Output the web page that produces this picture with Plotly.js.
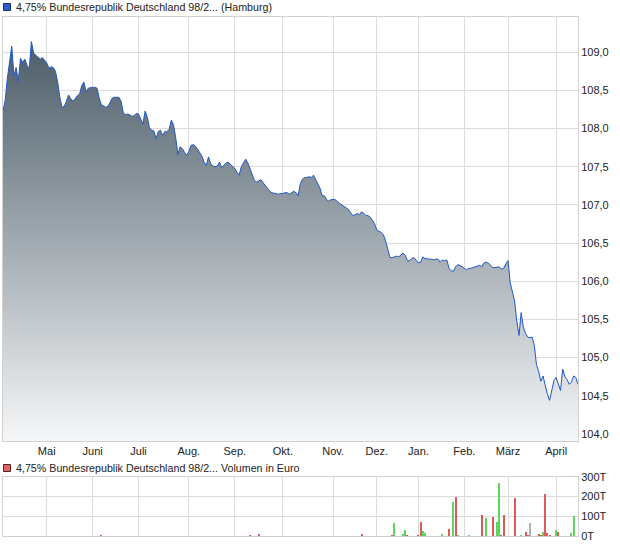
<!DOCTYPE html>
<html>
<head>
<meta charset="utf-8">
<script src="https://cdn.plot.ly/plotly-3.0.1.min.js"></script>
<style>html,body{margin:0;padding:0;background:#fff;}#chart{width:620px;height:546px;}</style>
</head>
<body>
<div id="chart"></div>
<script>
// ---- data ----
const startDate = '2024-04-03';
const holidays = ['2024-05-01','2024-12-24','2024-12-25','2024-12-26','2024-12-31','2025-01-01','2025-04-18'];

const prices = [
108.23,108.37,108.66,108.91,109.08,108.69,108.80,108.62,108.92,108.87,
108.91,108.83,108.78,109.14,108.99,108.96,108.93,108.91,108.93,108.90,
108.86,108.79,108.81,108.80,108.75,108.61,108.41,108.28,108.29,108.36,
108.44,108.39,108.36,108.39,108.43,108.45,108.56,108.61,108.48,108.53,
108.54,108.54,108.54,108.53,108.40,108.31,108.30,108.28,108.29,108.35,
108.40,108.41,108.41,108.41,108.36,108.21,108.18,108.19,108.18,108.16,
108.17,108.20,108.19,108.13,108.06,108.23,108.15,108.01,107.98,107.97,
107.87,107.96,107.98,107.91,107.96,107.96,107.99,108.11,108.05,107.88,
107.66,107.76,107.74,107.69,107.65,107.70,107.78,107.79,107.77,107.73,
107.68,107.64,107.56,107.52,107.63,107.54,107.51,107.50,107.51,107.56,
107.49,107.52,107.55,107.56,107.53,107.51,107.48,107.43,107.39,107.50,
107.56,107.60,107.55,107.48,107.39,107.32,107.30,107.31,107.33,107.29,
107.25,107.22,107.18,107.16,107.15,107.15,107.14,107.15,107.15,107.16,
107.16,107.14,107.16,107.18,107.16,107.12,107.28,107.34,107.36,107.36,
107.37,107.36,107.39,107.34,107.29,107.22,107.12,107.12,107.07,107.05,
107.07,107.07,107.07,107.04,107.02,106.99,106.97,106.95,106.94,106.90,
106.86,106.87,106.89,106.87,106.91,106.89,106.86,106.86,106.84,106.80,
106.75,106.67,106.66,106.64,106.61,106.53,106.42,106.31,106.31,106.32,
106.33,106.32,106.35,106.37,106.34,106.27,106.27,106.30,106.31,106.27,
106.24,106.25,106.32,106.30,106.29,106.29,106.29,106.28,106.29,106.29,
106.25,106.28,106.27,106.28,106.17,106.14,106.13,106.19,106.22,106.21,
106.19,106.17,106.15,106.17,106.17,106.18,106.19,106.20,106.21,106.19,
106.24,106.25,106.24,106.21,106.18,106.18,106.19,106.19,106.16,106.17,
106.23,106.27,105.98,105.85,105.74,105.48,105.29,105.59,105.40,105.32,
105.27,105.26,105.27,105.16,104.91,104.82,104.69,104.76,104.63,104.52,
104.44,104.56,104.70,104.74,104.66,104.57,104.85,104.75,104.71,104.65,
104.68,104.76,104.74,104.65
];

// volume (in thousand euro), by trading-day index
const volDay = [45,113,117,164,178,179,183,184,185,190,191,192,193,201,204,206,207,208,213,219,221,224,226,227,228,229,234,237,239,240,241,245,246,247,248,249,250,253,254,260,261];
const volumes = [3,3,8,10,5,67,11,31,3,5,72,27,13,8,37,174,195,5,6,108,93,98,73,267,3,108,190,5,20,5,68,8,3,20,210,17,7,30,20,14,100];
const volDir = ['-','-','-','-','-','+','+','+','-','-','-','+','+','+','-','+','-','+','+','-','+','-','+','+','-','-','-','+','-','-','0','-','-','+','-','-','-','+','-','+','+'];

const monthTickDates = ['2024-05-02','2024-05-31','2024-07-01','2024-08-01','2024-08-30','2024-10-01','2024-11-01','2024-11-29','2025-01-02','2025-01-31','2025-02-28','2025-04-01'];
const monthLabels = ['Mai','Juni','Juli','Aug.','Sep.','Okt.','Nov.','Dez.','Jan.','Feb.','März','April'];

const priceTitle = '4,75% Bundesrepublik Deutschland 98/2... (Hamburg)';
const volTitle = '4,75% Bundesrepublik Deutschland 98/2... Volumen in Euro';

// ---- trading calendar ----
function tradingDays(startISO, n) {
  const d = new Date(startISO + 'T00:00:00Z');
  const out = [];
  while (out.length < n) {
    const wd = d.getUTCDay();
    const s = d.toISOString().slice(0, 10);
    if (wd !== 0 && wd !== 6 && holidays.indexOf(s) < 0) out.push(s);
    d.setUTCDate(d.getUTCDate() + 1);
  }
  return out;
}
const dates = tradingDays(startDate, prices.length);

const dirColor = {'+': '#5cd65c', '-': '#dd5a5a', '0': '#b0b0b0'};

const priceTrace = {
  type: 'scatter', mode: 'lines',
  x: dates, y: prices,
  xaxis: 'x', yaxis: 'y',
  line: {color: '#1f57c8', width: 1},
  fill: 'tozeroy',
  fillcolor: '#9aa4ab',
  fillgradient: {type: 'vertical', start: 103.9, stop: 109.2,
    colorscale: [[0, '#f6f7f8'], [1, '#4a5b67']]},
  hoverinfo: 'skip'
};

const volTrace = {
  type: 'bar',
  x: volDay.map(i => dates[i]),
  y: volumes,
  xaxis: 'x2', yaxis: 'y2',
  width: 0.92,
  marker: {color: volDir.map(d => dirColor[d]), line: {width: 0}},
  hoverinfo: 'skip'
};

const gridC = '#dcdcdc';
const lineC = '#d2d2d2';
const H = 546, T = 17, B = 10, L = 3, R = 42;
const ph = H - T - B, pw = 620 - L - R;
const py = p => (H - B - p) / ph;
const px = p => (p - L) / pw;

const xCommon = {
  type: 'category', categoryorder: 'array', categoryarray: dates,
  range: [0, dates.length - 1],
  tickmode: 'array', tickvals: monthTickDates, ticktext: monthLabels,
  showgrid: true, gridcolor: gridC, gridwidth: 1,
  showline: true, mirror: true, linecolor: lineC, linewidth: 1,
  ticks: '', fixedrange: true, zeroline: false
};

const layout = {
  width: 620, height: 546,
  margin: {l: L, r: R, t: T, b: B, pad: 0},
  paper_bgcolor: '#ffffff', plot_bgcolor: '#ffffff',
  separators: ',.',
  showlegend: false,
  bargap: 0,
  font: {family: 'Liberation Sans, Arial, sans-serif', size: 11, color: '#222222'},
  xaxis: Object.assign({}, xCommon, {anchor: 'y', domain: [0, 1], showticklabels: true,
    tickfont: {size: 11, color: '#222222'}}),
  yaxis: {
    domain: [py(441), 1], range: [103.908, 109.462], side: 'right',
    tick0: 104, dtick: 0.5, tickformat: '.1f',
    showgrid: true, gridcolor: gridC, showline: true, mirror: true, linecolor: lineC,
    ticks: '', zeroline: false, fixedrange: true, anchor: 'x',
    tickfont: {size: 11, color: '#222222'}
  },
  xaxis2: Object.assign({}, xCommon, {anchor: 'y2', domain: [0, 1], showticklabels: false}),
  yaxis2: {
    domain: [0, py(476.7)], range: [0, 300], side: 'right',
    tickmode: 'array', tickvals: [0, 100, 200, 300], ticktext: ['0T', '100T', '200T', '300T'],
    showgrid: true, gridcolor: gridC, showline: true, mirror: true, linecolor: lineC,
    ticks: '', zeroline: false, fixedrange: true, anchor: 'x2',
    tickfont: {size: 11, color: '#222222'}
  },
  shapes: [
    {type: 'rect', xref: 'paper', yref: 'paper', x0: px(3.5), x1: px(10.5), y0: py(10.5), y1: py(3.5),
      fillcolor: '#2a5fd0', line: {color: '#1b2b5a', width: 1}},
    {type: 'rect', xref: 'paper', yref: 'paper', x0: px(3.5), x1: px(10.5), y0: py(471.5), y1: py(464.5),
      fillcolor: '#e06464', line: {color: '#5a2020', width: 1}}
  ],
  annotations: [
    {xref: 'paper', yref: 'paper', x: px(14), y: py(7), xanchor: 'left', yanchor: 'middle',
      text: priceTitle, showarrow: false, font: {size: 10.7, color: '#222222'}},
    {xref: 'paper', yref: 'paper', x: px(14), y: py(468), xanchor: 'left', yanchor: 'middle',
      text: volTitle, showarrow: false, font: {size: 10.7, color: '#222222'}}
  ]
};

Plotly.newPlot('chart', [priceTrace, volTrace], layout, {staticPlot: true, displayModeBar: false});
</script>
</body>
</html>
